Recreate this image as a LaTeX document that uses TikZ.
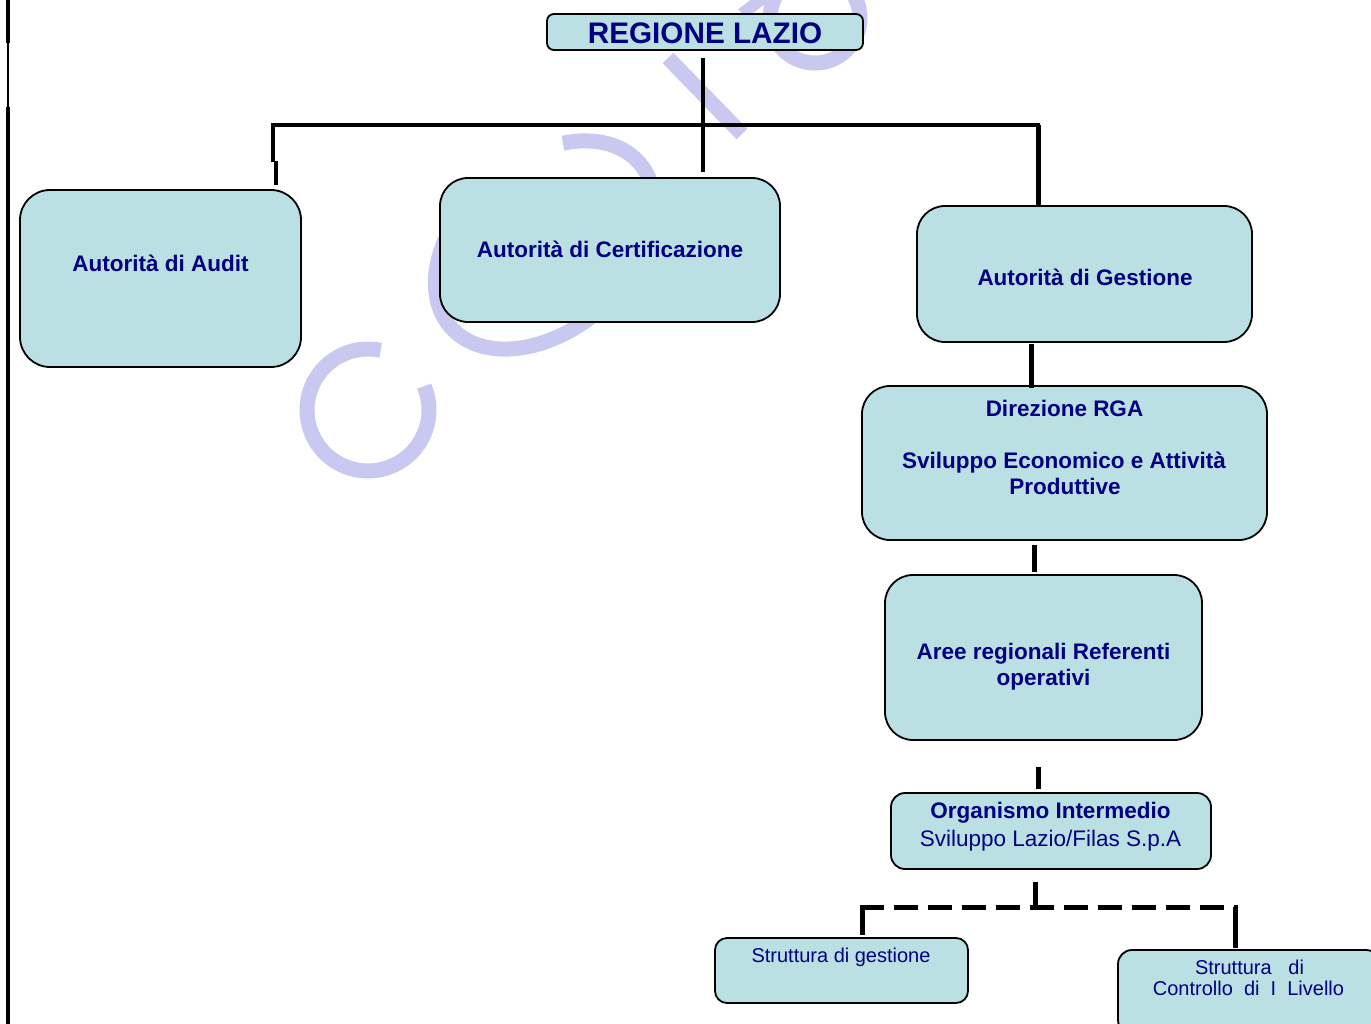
\documentclass[tikz,border=0pt]{standalone}
\usepackage{fontspec}
\setmainfont{Liberation Sans}
\usetikzlibrary{calc}
\definecolor{boxfill}{RGB}{187,224,227}
\definecolor{navy}{RGB}{0,0,128}
\definecolor{wmcol}{RGB}{200,200,240}
\begin{document}
\begin{tikzpicture}[x=1pt,y=-1pt,
  box/.style={draw=black, line width=1.8pt, fill=boxfill, rounded corners=28pt, inner sep=0pt, outer sep=0pt},
  txt/.style={text=navy, inner sep=0pt, anchor=base, font=\fontsize{22.5}{26}\selectfont\bfseries},
  txtr/.style={text=navy, inner sep=0pt, anchor=base, font=\fontsize{22.5}{26}\selectfont},
  txts/.style={text=navy, inner sep=0pt, anchor=base, font=\fontsize{20}{22}\selectfont},
  conn/.style={draw=black, line width=4.5pt, line cap=butt},
  connb/.style={draw=black, line width=5pt, line cap=butt},
  wm/.style={draw=wmcol, line width=15pt, line cap=butt}]
\useasboundingbox (0,0) rectangle (1371,1024);
\clip (0,0) rectangle (1371,1024);
\fill[white] (0,0) rectangle (1371,1024);

% watermark
\draw[wm] plot[domain=-23:282, samples=60] ({368+61*cos(\x)},{410+61*sin(\x)});
\draw[wm] plot[domain=-235:50, samples=90] ({545+125*cos(\x)*0.755-85*sin(\x)*0.656},{245-125*cos(\x)*0.656-85*sin(\x)*0.755});
\draw[wm] (668,58) -- (742,134);
\draw[wm] (815,18) circle[radius=45];
\draw[wm, line width=12pt] (742,14) -- (768,-6);

% left border
\coordinate (b0) at (8,0);
\coordinate (b1) at (8,43);
\coordinate (b2) at (8,107);
\coordinate (b3) at (8,1024);
\draw[black, line width=4pt] (b0) -- (b1);
\draw[black, line width=2pt] (b1) -- (b2);
\draw[black, line width=4pt] (b2) -- (b3);

% boxes
\node[box, rounded corners=7pt, minimum width=316pt, minimum height=36pt] (reg) at (705,32) {};
\node[box, rounded corners=30pt, minimum width=281pt, minimum height=177pt] (audit) at (160.5,278.5) {};
\node[box, minimum width=340pt, minimum height=144pt] (cert) at (610,250) {};
\node[box, minimum width=335pt, minimum height=136pt] (gest) at (1084.5,274) {};
\node[box, minimum width=405pt, minimum height=154pt] (dir) at (1064.5,463) {};
\node[box, minimum width=317pt, minimum height=165pt] (aree) at (1043.5,657.5) {};
\node[box, rounded corners=14pt, minimum width=320pt, minimum height=76pt] (org) at (1051,831) {};
\node[box, rounded corners=12pt, minimum width=253pt, minimum height=65pt] (sg) at (841.5,970.5) {};
\node[box, rounded corners=14pt, minimum width=262pt, minimum height=84pt] (sc) at (1249,992) {};

% junction coordinates
\coordinate (j0) at (703,125);
\coordinate (jL) at (273,125);
\coordinate (jR) at (1038,125);
\coordinate (aL) at (276,162);
\coordinate (c1) at (1031,0);
\coordinate (c2) at (1034,0);
\coordinate (c3) at (1038,0);
\coordinate (c4) at (1035,907);
\coordinate (dL) at (862,907);
\coordinate (dR) at (1235,907);

% connectors
\draw[conn] ($(reg.south -| j0)+(0,8)$) -- ($(cert.north -| j0)+(0,-6)$);
\draw[conn] ($(jL)+(-2,0)$) -- ($(jR)+(2,0)$);
\draw[conn] (jL) -- (jL |- aL);
\draw[conn] ($(aL)+(0,-1)$) -- ($(audit.north -| aL)+(0,-5)$);
\draw[connb] (jR) -- (gest.north -| jR);
\draw[connb] ($(gest.south -| c1)+(0,2)$) -- ($(dir.north -| c1)+(0,2)$);
\draw[connb] ($(dir.south -| c2)+(0,5)$) -- ($(aree.north -| c2)+(0,-3)$);
\draw[connb] ($(aree.south -| c3)+(0,27)$) -- ($(org.north -| c3)+(0,-4)$);
\draw[connb] ($(org.south -| c4)+(0,13)$) -- (c4);
\draw[connb, dash pattern=on 24pt off 10pt] ($(dL)+(-2.5,0)$) -- ($(dR)+(2.5,0)$);
\draw[connb] (dL) -- ($(sg.north -| dL)+(0,-3)$);
\draw[connb] (dR) -- ($(sc.north -| dR)+(0,-2)$);

% texts
\node[txt, font=\fontsize{29.7}{34}\selectfont\bfseries] (regT) at (705,44) {REGIONE LAZIO};
\node[txt] (auditT) at (160.5,272) {Autorità di Audit};
\node[txt] (certT) at (610,258) {Autorità di Certificazione};
\node[txt] (gestT) at (1085,286) {Autorità di Gestione};
\node[txt] (dirT1) at (1064.5,416) {Direzione RGA};
\node[txt] (dirT2) at (1064,468) {Sviluppo Economico e Attività};
\node[txt] (dirT3) at (1065,494) {Produttive};
\node[txt] (areeT1) at (1043.5,659) {Aree regionali Referenti};
\node[txt] (areeT2) at (1043.5,685) {operativi};
\node[txt] (orgT1) at (1050.5,818) {Organismo Intermedio};
\node[txtr] (orgT2) at (1050.5,846) {Sviluppo Lazio/Filas S.p.A};
\node[txts] (sgT) at (841,962) {Struttura di gestione};
\node[txts] (scT1) at (1249.5,974) {Struttura\ \ \ di};
\node[txts] (scT2) at (1248.5,995) {Controllo\ \ di\ \ I\ \ Livello};
\end{tikzpicture}
\end{document}
